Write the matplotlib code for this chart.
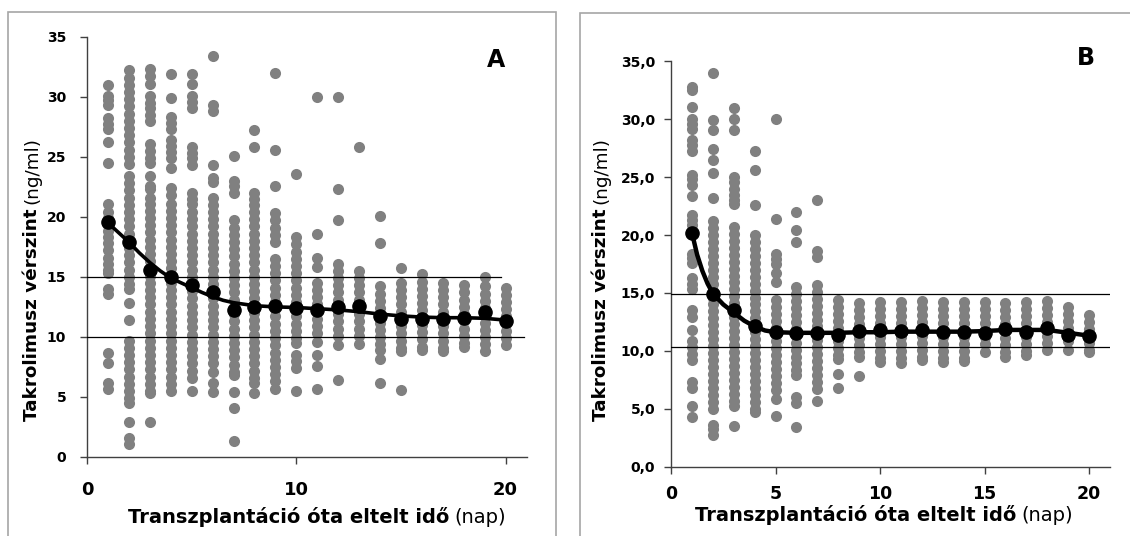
import matplotlib.pyplot as plt
from matplotlib.patches import Rectangle
from matplotlib.ticker import FuncFormatter

plt.rcParams['font.family'] = ['DejaVu Sans']

days = list(range(1, 21))

# --- A: egyedi mérések naponként (ng/ml) ---
a_points = [
    [31.0, 30.1, 29.7, 29.3, 28.2, 27.7, 27.3, 26.2, 24.5, 21.1, 20.4, 19.9, 19.3, 18.8, 18.3, 17.8, 17.2,
     16.6, 16.1, 15.6, 15.3, 14.0, 13.6, 8.7, 7.8, 6.2, 5.7],
    [32.2, 31.6, 31.0, 30.4, 29.8, 29.2, 28.6, 28.0, 27.4, 26.8, 26.2, 25.6, 25.0, 24.4, 23.4, 22.8, 22.2,
     21.6, 21.0, 20.4, 19.8, 19.2, 18.6, 18.0, 17.4, 16.8, 16.2, 15.6, 15.0, 14.4, 14.0, 12.8, 11.4,
     9.7, 9.1, 8.5, 7.9, 7.3, 6.7, 6.1, 5.5, 4.9, 4.5, 2.9, 1.6, 1.1],
    [32.3, 31.7, 31.1, 30.1, 29.5, 29.1, 28.5, 28.0, 26.1, 25.5, 24.9, 24.5, 23.4, 22.6, 22.3, 21.6, 21.1,
     20.5, 19.9, 19.3, 18.7, 18.1, 17.5, 16.9, 16.3, 15.7, 15.1, 14.5, 13.9, 13.3, 12.7, 12.1, 11.5, 10.9,
     10.3, 9.7, 9.1, 8.5, 7.9, 7.3, 6.7, 6.1, 5.5, 5.3, 2.9],
    [31.9, 29.9, 28.3, 27.8, 27.3, 26.4, 25.9, 25.4, 24.9, 24.1, 22.4, 21.8, 21.1, 20.5, 19.9, 19.3, 18.7,
     18.1, 17.5, 16.9, 16.3, 15.7, 15.1, 14.5, 13.9, 13.3, 12.7, 12.1, 11.5, 10.9, 10.3, 9.7, 9.1, 8.5,
     7.9, 7.3, 6.7, 6.1, 5.5],
    [31.9, 31.1, 30.1, 29.6, 29.1, 25.8, 25.3, 24.9, 24.3, 22.0, 21.5, 21.1, 20.4, 19.8, 19.2, 18.6, 18.0,
     17.4, 16.8, 16.2, 15.6, 15.0, 14.4, 13.8, 13.2, 12.6, 12.0, 11.4, 10.8, 10.2, 9.6, 9.0, 8.4, 7.8,
     7.2, 6.6, 5.5],
    [33.4, 29.3, 28.8, 24.3, 23.2, 22.9, 21.6, 21.0, 20.4, 19.8, 19.2, 18.6, 18.0, 17.4, 16.8, 16.2, 15.6,
     15.0, 14.4, 13.8, 13.2, 12.6, 12.0, 11.4, 10.8, 10.2, 9.6, 9.0, 8.4, 7.8, 7.1, 6.2, 5.4],
    [25.1, 23.0, 22.6, 22.0, 19.7, 19.1, 18.5, 17.9, 17.3, 16.7, 16.1, 15.5, 14.9, 14.3, 13.7, 13.1, 12.5,
     11.9, 11.3, 10.7, 10.1, 9.5, 8.9, 8.3, 7.7, 7.1, 6.8, 5.4, 4.1, 1.3],
    [27.2, 25.8, 22.0, 21.5, 21.0, 20.4, 19.8, 19.2, 18.6, 18.0, 17.4, 16.8, 16.2, 15.6, 15.0, 14.4, 13.8,
     13.2, 12.6, 12.0, 11.4, 10.8, 10.2, 9.6, 9.0, 8.4, 7.8, 7.2, 6.6, 6.2, 5.3],
    [32.0, 25.6, 22.6, 20.3, 19.7, 19.1, 18.5, 17.9, 16.5, 15.9, 15.3, 14.7, 14.1, 13.5, 12.9, 12.3, 11.7,
     11.1, 10.5, 9.9, 9.3, 8.7, 8.1, 7.5, 6.9, 6.3, 5.7],
    [23.6, 18.3, 17.7, 17.1, 16.5, 15.9, 15.3, 14.7, 14.1, 13.5, 12.9, 12.3, 11.7, 11.1, 10.5, 9.9, 9.5,
     8.5, 8.0, 7.4, 5.5],
    [30.0, 18.6, 16.6, 15.8, 14.5, 13.9, 13.3, 12.7, 12.1, 11.5, 10.9, 10.3, 9.6, 8.5, 7.6, 5.7],
    [30.0, 22.3, 19.7, 16.1, 15.5, 14.9, 14.3, 13.7, 13.1, 12.5, 11.9, 11.3, 10.7, 10.1, 9.3, 6.4],
    [25.8, 15.5, 14.9, 14.3, 13.7, 13.1, 12.5, 11.9, 11.3, 10.7, 10.1, 9.4],
    [20.1, 17.8, 14.2, 13.6, 13.0, 12.4, 11.8, 11.2, 10.6, 10.0, 9.4, 8.9, 8.2, 6.2],
    [15.7, 14.5, 13.9, 13.3, 12.7, 12.1, 11.5, 10.9, 10.3, 9.7, 9.1, 8.8, 5.6],
    [15.2, 14.6, 14.0, 13.4, 12.8, 12.2, 11.6, 11.0, 10.4, 9.8, 9.2, 8.9],
    [14.5, 13.9, 13.3, 12.7, 12.1, 11.5, 10.9, 10.3, 9.7, 9.1, 8.8],
    [14.3, 13.7, 13.1, 12.5, 11.9, 11.3, 10.7, 10.1, 9.5, 9.2],
    [15.0, 14.2, 13.6, 13.0, 12.4, 11.8, 11.2, 10.6, 10.0, 9.4, 8.8],
    [14.1, 13.5, 12.9, 12.3, 11.7, 11.1, 10.5, 9.9, 9.3],
]
a_means = [19.6, 17.9, 15.6, 15.0, 14.3, 13.7, 12.2, 12.5, 12.55, 12.4, 12.2, 12.5, 12.55, 11.7, 11.5,
           11.5, 11.5, 11.6, 12.1, 11.3]
a_trend_x = [1, 1.5, 2, 2.5, 3, 3.5, 4, 4.5, 5, 5.5, 6, 6.5, 7, 8, 9, 10, 11, 12, 13, 14, 15, 16, 17, 18, 19, 20]
a_trend_y = [19.5, 18.7, 17.9, 17.0, 16.2, 15.5, 14.9, 14.5, 14.1, 13.7, 13.35, 13.05, 12.85, 12.6, 12.5,
             12.45, 12.35, 12.25, 12.1, 11.9, 11.75, 11.65, 11.6, 11.6, 11.55, 11.4]
a_ref = [15, 10]
a_ref_end = [19.8, 20.9]

# --- B: egyedi mérések naponként (ng/ml) ---
b_points = [
    [32.8, 32.5, 31.1, 30.0, 29.6, 29.2, 28.2, 27.8, 27.3, 25.2, 24.8, 24.3, 23.4, 21.7, 21.3, 20.9, 20.2,
     18.4, 18.0, 17.6, 16.3, 15.8, 15.3, 13.5, 12.9, 11.8, 10.8, 10.3, 9.7, 9.2, 7.3, 6.8, 5.2, 4.3],
    [34.0, 29.9, 29.1, 27.4, 26.5, 25.4, 23.2, 21.2, 20.6, 20.0, 19.4, 18.8, 18.2, 17.6, 17.0, 16.4, 15.8,
     15.2, 14.6, 14.0, 13.4, 12.8, 12.2, 11.6, 11.0, 10.4, 9.8, 9.2, 8.6, 8.0, 7.4, 6.8, 6.2, 5.6, 5.0,
     3.6, 3.2, 2.7],
    [31.0, 30.0, 29.1, 25.0, 24.6, 24.0, 23.5, 23.0, 22.7, 20.7, 20.1, 19.5, 18.9, 18.3, 17.7, 17.1, 16.5,
     15.9, 15.3, 14.7, 14.1, 13.5, 12.9, 12.3, 11.7, 11.1, 10.5, 9.9, 9.3, 8.7, 8.1, 7.5, 6.9, 6.3, 5.7,
     5.2, 3.5],
    [27.3, 25.6, 22.6, 20.0, 19.4, 18.8, 18.2, 17.6, 17.0, 16.4, 15.8, 15.2, 14.6, 14.0, 13.4, 12.8, 12.2,
     11.6, 11.0, 10.4, 9.8, 9.2, 8.6, 8.0, 7.4, 6.8, 6.2, 5.6, 5.0, 4.7],
    [30.0, 21.4, 18.4, 17.9, 17.5, 16.7, 15.9, 14.4, 13.8, 13.2, 12.6, 12.0, 11.4, 10.8, 10.2, 9.6, 9.0,
     8.4, 7.8, 7.2, 6.6, 5.8, 4.4],
    [22.0, 20.4, 19.4, 15.5, 14.9, 14.3, 13.7, 13.1, 12.5, 11.9, 11.3, 10.7, 10.1, 9.5, 8.9, 8.3, 7.9,
     6.0, 5.5, 3.4],
    [23.0, 18.6, 18.1, 15.7, 15.1, 14.5, 13.9, 13.3, 12.7, 12.1, 11.5, 10.9, 10.3, 9.7, 9.1, 8.5, 7.9,
     7.3, 6.7, 5.7],
    [14.4, 13.8, 13.2, 12.6, 12.0, 11.4, 10.8, 10.2, 9.6, 9.3, 8.0, 6.8],
    [14.1, 13.5, 12.9, 12.3, 11.7, 11.1, 10.5, 9.9, 9.5, 7.8],
    [14.2, 13.6, 13.0, 12.4, 11.8, 11.2, 10.6, 10.0, 9.4, 9.0],
    [14.2, 13.6, 13.0, 12.4, 11.8, 11.2, 10.6, 10.0, 9.4, 8.9],
    [14.3, 13.7, 13.1, 12.5, 11.9, 11.3, 10.7, 10.1, 9.5, 9.2],
    [14.2, 13.6, 13.0, 12.4, 11.8, 11.2, 10.6, 10.0, 9.4, 9.0],
    [14.2, 13.6, 13.0, 12.4, 11.8, 11.2, 10.6, 10.0, 9.4, 9.1],
    [14.2, 13.6, 13.0, 12.4, 11.8, 11.2, 10.6, 9.9],
    [14.1, 13.5, 12.9, 12.3, 11.7, 11.1, 10.5, 9.9, 9.5],
    [14.2, 13.6, 13.0, 12.4, 11.8, 11.2, 10.6, 10.0, 9.6],
    [14.3, 13.7, 13.1, 12.5, 11.9, 11.3, 10.7, 10.1],
    [13.8, 13.2, 12.6, 12.0, 11.4, 10.8, 10.1],
    [13.1, 12.5, 11.9, 11.3, 10.7, 10.1, 9.9],
]
b_means = [20.2, 14.9, 13.5, 12.1, 11.65, 11.5, 11.5, 11.4, 11.7, 11.8, 11.7, 11.8, 11.6, 11.65, 11.5,
           11.9, 11.6, 12.0, 11.4, 11.3]
b_trend_x = [1, 1.25, 1.5, 1.75, 2, 2.5, 3, 3.5, 4, 4.5, 5, 6, 7, 8, 9, 10, 11, 12, 13, 14, 15, 16, 17,
             18, 19, 20]
b_trend_y = [20.2, 18.3, 16.9, 15.8, 14.95, 14.0, 13.3, 12.6, 12.1, 11.75, 11.6, 11.55, 11.55, 11.55, 11.6,
             11.6, 11.65, 11.65, 11.65, 11.65, 11.7, 11.8, 11.8, 11.8, 11.55, 11.3]
b_ref = [14.9, 10.3]
b_ref_end = [21, 21]

ylabel_bold = 'Takrolimusz vérszint'
ylabel_norm = '(ng/ml)'
xlabel_bold = 'Transzplantáció óta eltelt idő'
xlabel_norm = '(nap)'

W, H = 1130, 536
fig = plt.figure(figsize=(W / 100, H / 100), dpi=100)

# keretek
fig.patches.append(Rectangle((8 / W, -0.02), 548 / W, 1.02 - 12.3 / H, transform=fig.transFigure,
                             fill=False, edgecolor='#a6a6a6', lw=1.2))
fig.patches.append(Rectangle((580 / W, -0.02), 0.6, 1.02 - 13.3 / H, transform=fig.transFigure,
                             fill=False, edgecolor='#a6a6a6', lw=1.2))

axA = fig.add_axes([87 / W, 79 / H, 439.5 / W, 420.3 / H])
axB = fig.add_axes([671 / W, 69.5 / H, 439 / W, 405.1 / H])


def draw_panel(ax, points, means, tx, ty, ref, ref_end, trend_lw):
    for d, vals in zip(days, points):
        ax.scatter([d] * len(vals), vals, s=64, color='#808080', linewidths=0, zorder=2)
    for r, e in zip(ref, ref_end):
        ax.plot([0, e], [r, r], color='black', lw=0.9, zorder=3)
    ax.plot(tx, ty, color='black', lw=trend_lw, zorder=4, solid_capstyle='round')
    ax.plot(days, means, 'o', color='black', markersize=9.5, zorder=5)
    ax.set_xlim(0, 21)
    ax.set_ylim(0, 35)
    ax.set_yticks(range(0, 36, 5))
    for s in ['top', 'right']:
        ax.spines[s].set_visible(False)
    for s in ['left', 'bottom']:
        ax.spines[s].set_color('#404040')
        ax.spines[s].set_linewidth(1.0)
    ax.tick_params(direction='out', length=5, width=1, color='#404040')


draw_panel(axA, a_points, a_means, a_trend_x, a_trend_y, a_ref, a_ref_end, 2.6)
draw_panel(axB, b_points, b_means, b_trend_x, b_trend_y, b_ref, b_ref_end, 3.2)

axA.set_xticks([0, 10, 20])
axB.set_xticks([0, 5, 10, 15, 20])
axB.yaxis.set_major_formatter(FuncFormatter(lambda v, p: f'{v:.1f}'.replace('.', ',')))
axA.tick_params(axis='y', labelsize=10, pad=10)
axA.tick_params(axis='x', labelsize=13, pad=12)
axB.tick_params(axis='y', labelsize=10, pad=6.5)
axB.tick_params(axis='x', labelsize=12.5, pad=8.5)
for ax in (axA, axB):
    for lab in ax.get_xticklabels() + ax.get_yticklabels():
        lab.set_fontweight('bold')

fig.text(496 / W, 1 - 60 / H, 'A', fontsize=17, fontweight='bold', ha='center', va='center')
fig.text(1086 / W, 1 - 58 / H, 'B', fontsize=17, fontweight='bold', ha='center', va='center')

renderer = fig.canvas.get_renderer()


def xlabel_mixed(x0, base, size=14.0):
    t = fig.text(x0 / W, 1 - base / H, xlabel_bold, fontsize=size, fontweight='bold',
                 ha='left', va='baseline')
    bb = t.get_window_extent(renderer)
    fig.text((bb.x1 + 5) / W, 1 - base / H, xlabel_norm, fontsize=size, ha='left', va='baseline')


def ylabel_mixed(xc, bottom, size=13.2):
    t = fig.text(xc / W, 1 - bottom / H, ylabel_bold, fontsize=size, fontweight='bold',
                 rotation=90, ha='center', va='bottom')
    bb = t.get_window_extent(renderer)
    fig.text(xc / W, (bb.y1 + 5) / H, ylabel_norm, fontsize=size, rotation=90, ha='center', va='bottom')


xlabel_mixed(128, 523)
xlabel_mixed(695, 521)
ylabel_mixed(32, 421)
ylabel_mixed(601, 421)

fig.savefig('out.png', dpi=100)
